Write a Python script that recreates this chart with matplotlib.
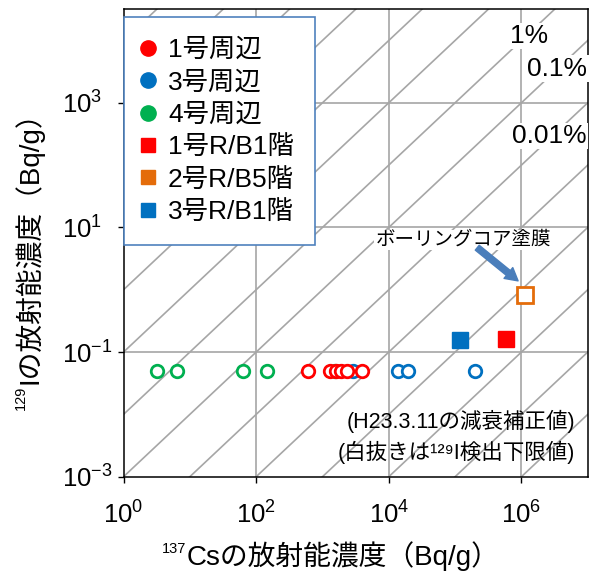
import numpy as np
import matplotlib
matplotlib.use('Agg')
import matplotlib.pyplot as plt
from matplotlib.ticker import FixedLocator, FixedFormatter

plt.rcParams['font.family'] = ['Liberation Sans', 'Noto Sans CJK JP', 'DejaVu Sans']
plt.rcParams['mathtext.fontset'] = 'custom'
plt.rcParams['mathtext.rm'] = 'Liberation Sans'

# Cs-137 (x) and I-129 (y) concentrations, Bq/g
unit1_cs = [607, 1290, 1590, 1890, 2320, 3900]
unit1_i = [0.05, 0.05, 0.05, 0.05, 0.05, 0.05]
unit3_cs = [2860, 13600, 19300, 197000]
unit3_i = [0.05, 0.05, 0.05, 0.05]
unit4_cs = [3.2, 6.5, 64, 146, 1530]
unit4_i = [0.05, 0.05, 0.05, 0.05, 0.05]

rb1_unit1_cs, rb1_unit1_i = [5.9e5], [0.16]
rb5_unit2_cs, rb5_unit2_i = [1.14e6], [0.81]
rb1_unit3_cs, rb1_unit3_i = [1.2e5], [0.158]

ratio_exps = list(range(-11, 6))          # y = 10^k * x reference lines
ratio_labels = ['1%', '0.1%', '0.01%']

RED, BLUE, GREEN, ORANGE = '#FF0000', '#0070C0', '#00B050', '#E46C0A'
GRID = '#A6A6A6'

W, H = 593, 571
fig = plt.figure(figsize=(W / 100, H / 100), dpi=100)
ax = fig.add_axes([0.2083, 0.1651, 0.7828, 0.8186])
ax.set_xscale('log')
ax.set_yscale('log')
xmin, xmax = 1, 1e7
ymin, ymax = 1e-3, 10 ** 4.5
ax.set_xlim(xmin, xmax)
ax.set_ylim(ymin, ymax)

# grid every two decades
for gx in [1e2, 1e4, 1e6]:
    ax.axvline(gx, color=GRID, lw=1.2, zorder=1)
for gy in [1e-1, 1e1, 1e3]:
    ax.axhline(gy, color=GRID, lw=1.2, zorder=1)

xs = np.array([xmin, xmax])
for k in ratio_exps:
    ax.plot(xs, xs * 10.0 ** k, color=GRID, lw=1.2, zorder=1)

# open circles: detection limit values
circ = dict(marker='o', ms=9, mew=2, mfc='white', ls='none', zorder=3)
ax.plot(unit4_cs, unit4_i, mec=GREEN, **circ)
ax.plot(unit3_cs, unit3_i, mec=BLUE, **circ)
ax.plot(unit1_cs, unit1_i, mec=RED, **circ)

ax.plot(rb1_unit3_cs, rb1_unit3_i, marker='s', ms=12, color=BLUE, ls='none', zorder=3)
ax.plot(rb1_unit1_cs, rb1_unit1_i, marker='s', ms=12, color=RED, ls='none', zorder=3)
ax.plot(rb5_unit2_cs, rb5_unit2_i, marker='s', ms=11, mfc='white', mec=ORANGE, mew=2,
        ls='none', zorder=3)

# legend handles
handles = []
for c in [RED, BLUE, GREEN]:
    handles.append(ax.plot([], [], marker='o', ms=11, color=c, ls='none')[0])
for c in [RED, ORANGE, BLUE]:
    handles.append(ax.plot([], [], marker='s', ms=10.5, color=c, ls='none')[0])
names = ['1号周辺', '3号周辺', '4号周辺', '1号R/B1階', '2号R/B5階', '3号R/B1階']
leg = ax.legend(handles, names, loc='upper left', bbox_to_anchor=(0.0, 0.984),
                fontsize=19, frameon=True, fancybox=False, framealpha=1,
                edgecolor='#4F81BD', handlelength=0.25, handletextpad=0.64,
                labelspacing=0.32, borderpad=0.8, borderaxespad=0)
leg.get_frame().set_linewidth(1.2)
leg.set_zorder(5)

box = dict(facecolor='white', edgecolor='none', pad=1)
ax.text(10 ** 6.114, 10 ** 4.07, ratio_labels[0], fontsize=19, ha='center', va='center',
        bbox=box, zorder=4)
ax.text(10 ** 6.54, 10 ** 3.55, ratio_labels[1], fontsize=19, ha='center', va='center',
        bbox=box, zorder=4)
ax.text(10 ** 6.42, 10 ** 2.47, ratio_labels[2], fontsize=19, ha='center', va='center',
        bbox=box, zorder=4)

ax.text(0.732, 0.506, 'ボーリングコア塗膜', transform=ax.transAxes, fontsize=14,
        ha='center', va='center', bbox=box, zorder=4)
ax.annotate('', xy=(0.85, 0.419), xytext=(0.762, 0.49), xycoords='axes fraction',
            arrowprops=dict(arrowstyle='simple,head_width=1.0,head_length=0.9,tail_width=0.45',
                            color='#4A7EBB', shrinkA=0, shrinkB=0), zorder=4)

ax.text(0.973, 0.118, '(H23.3.11の減衰補正値)', transform=ax.transAxes, fontsize=15.5,
        ha='right', va='center', zorder=4)
ax.text(0.973, 0.051, '(白抜きは¹²⁹I検出下限値)', transform=ax.transAxes, fontsize=15.5,
        ha='right', va='center', zorder=4)

# axes styling
for s in ax.spines.values():
    s.set_linewidth(1.1)
    s.set_color('black')
    s.set_zorder(2.5)

xt = [1e0, 1e2, 1e4, 1e6]
yt = [1e-3, 1e-1, 1e1, 1e3]
ax.xaxis.set_major_locator(FixedLocator(xt))
ax.xaxis.set_major_formatter(FixedFormatter([r'$\mathregular{10^{%d}}$' % e for e in [0, 2, 4, 6]]))
ax.yaxis.set_major_locator(FixedLocator(yt))
ax.yaxis.set_major_formatter(FixedFormatter([r'$\mathregular{10^{%d}}$' % e for e in [-3, -1, 1, 3]]))
ax.xaxis.set_minor_locator(FixedLocator([]))
ax.yaxis.set_minor_locator(FixedLocator([]))
ax.tick_params(axis='x', direction='out', length=4.5, width=1, labelsize=18.5, pad=13)
ax.tick_params(axis='y', direction='out', length=4.5, width=1, labelsize=18.5, pad=40)
for lab in ax.get_yticklabels():
    lab.set_horizontalalignment('left')


def px(x, y):
    return x / W, 1 - y / H


# axis titles, with the isotope mass number set as a raised small label
fig.text(*px(187, 565), 'Csの放射能濃度（Bq/g）', fontsize=20, ha='left', va='baseline')
fig.text(*px(186, 553), '137', fontsize=10.5, ha='right', va='baseline')
fig.text(*px(37, 384), 'Iの放射能濃度（Bq/g）', fontsize=20, ha='left', va='baseline',
         rotation=90, rotation_mode='anchor')
fig.text(*px(25, 386), '129', fontsize=10.5, ha='right', va='baseline',
         rotation=90, rotation_mode='anchor')

fig.savefig('out.png', dpi=100)
